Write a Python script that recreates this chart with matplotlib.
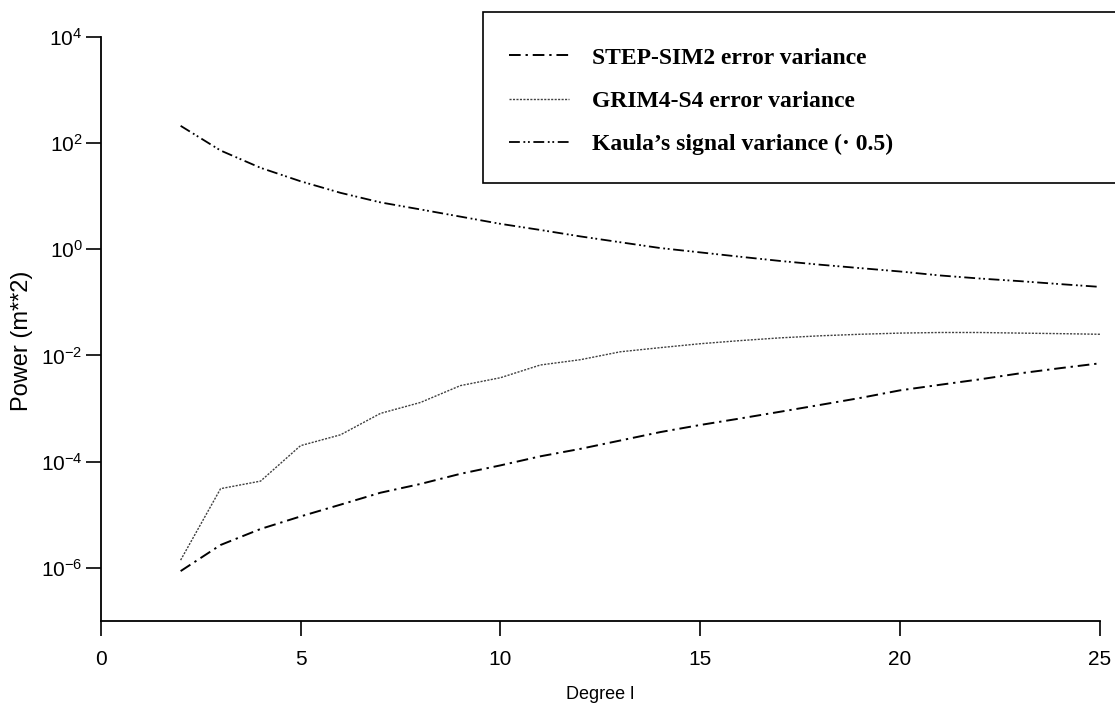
import numpy as np
import matplotlib
matplotlib.use('Agg')
import matplotlib.pyplot as plt
from matplotlib.patches import Rectangle

plt.rcParams['font.family'] = 'Liberation Sans'
plt.rcParams['mathtext.fontset'] = 'custom'
plt.rcParams['mathtext.rm'] = 'Liberation Sans'
plt.rcParams['mathtext.it'] = 'Liberation Sans'

# degree l
degree = [2, 3, 4, 5, 6, 7, 8, 9, 10, 11, 12, 13, 14, 15, 16, 17, 18, 19, 20, 21, 22, 23, 24, 25]

# STEP-SIM2 error variance (m**2)
step_sim2 = [8.7e-7, 2.7e-6, 5.4e-6, 9.3e-6, 1.55e-5, 2.6e-5, 3.8e-5, 5.9e-5, 8.5e-5, 1.26e-4,
             1.74e-4, 2.5e-4, 3.6e-4, 4.9e-4, 6.5e-4, 8.7e-4, 1.17e-3, 1.58e-3, 2.2e-3, 2.8e-3,
             3.55e-3, 4.6e-3, 5.75e-3, 7.1e-3]

# GRIM4-S4 error variance (m**2)
grim4_s4 = [1.4e-6, 3.1e-5, 4.3e-5, 2.0e-4, 3.2e-4, 8.1e-4, 1.3e-3, 2.7e-3, 3.8e-3, 6.6e-3,
            8.3e-3, 1.17e-2, 1.4e-2, 1.66e-2, 1.9e-2, 2.14e-2, 2.34e-2, 2.5e-2, 2.63e-2, 2.7e-2,
            2.7e-2, 2.63e-2, 2.57e-2, 2.5e-2]

# Kaula's signal variance * 0.5 (m**2)
kaula = [210, 72, 34, 19, 11.5, 7.6, 5.6, 4.1, 3.0, 2.3, 1.74, 1.35, 1.05, 0.87, 0.72, 0.60,
         0.51, 0.44, 0.38, 0.32, 0.28, 0.25, 0.22, 0.195]

labels = ['STEP-SIM2 error variance', 'GRIM4-S4 error variance',
          "Kaula\u2019s signal variance (\u00b7 0.5)"]

fig = plt.figure(figsize=(11.15, 7.17), dpi=100)
ax = fig.add_axes([0.0903, 0.1339, 0.8962, 0.8149])

l1, = ax.plot(degree, step_sim2, color='black', lw=1.4, linestyle=(0, (6, 2.5, 1.2, 2.5)))
l2, = ax.plot(degree, grim4_s4, color='0.25', lw=1.0, linestyle=(0, (1.5, 1)))
l3, = ax.plot(degree, kaula, color='black', lw=1.3, linestyle=(0, (6, 2, 1, 1.5, 1, 2)))

ax.set_yscale('log')
ax.set_xlim(0, 25)
ax.set_ylim(1e-7, 1e4)
ax.set_xticks([0, 5, 10, 15, 20, 25])
ax.set_yticks([1e-6, 1e-4, 1e-2, 1e0, 1e2, 1e4])
ax.yaxis.set_minor_locator(matplotlib.ticker.NullLocator())

for s in ['top', 'right']:
    ax.spines[s].set_visible(False)
for s in ['left', 'bottom']:
    ax.spines[s].set_linewidth(1.3)

ax.tick_params(axis='both', direction='out', length=11, width=1.2, labelsize=15)
ax.tick_params(axis='x', pad=10)
ax.tick_params(axis='y', pad=2)

ax.set_xlabel('Degree l', fontsize=13, labelpad=12)
ax.set_ylabel('Power (m**2)', fontsize=17)
ax.yaxis.set_label_coords(-0.068, 0.48)

# legend box running off the right edge
fig.add_artist(Rectangle((483 / 1115, 1 - 183 / 717), 0.6, (183 - 12) / 717,
                         transform=fig.transFigure, facecolor='white', edgecolor='black',
                         lw=1.2, clip_on=False))
leg = fig.legend([l1, l2, l3], labels, loc='upper left',
                 bbox_to_anchor=(483 / 1115, 1 - 21 / 717), bbox_transform=fig.transFigure,
                 frameon=False, borderaxespad=0, borderpad=1.1, handlelength=2.55,
                 handletextpad=0.95, labelspacing=0.93,
                 prop={'family': 'Liberation Serif', 'weight': 'bold', 'size': 17})

fig.savefig('out.png', dpi=100)
